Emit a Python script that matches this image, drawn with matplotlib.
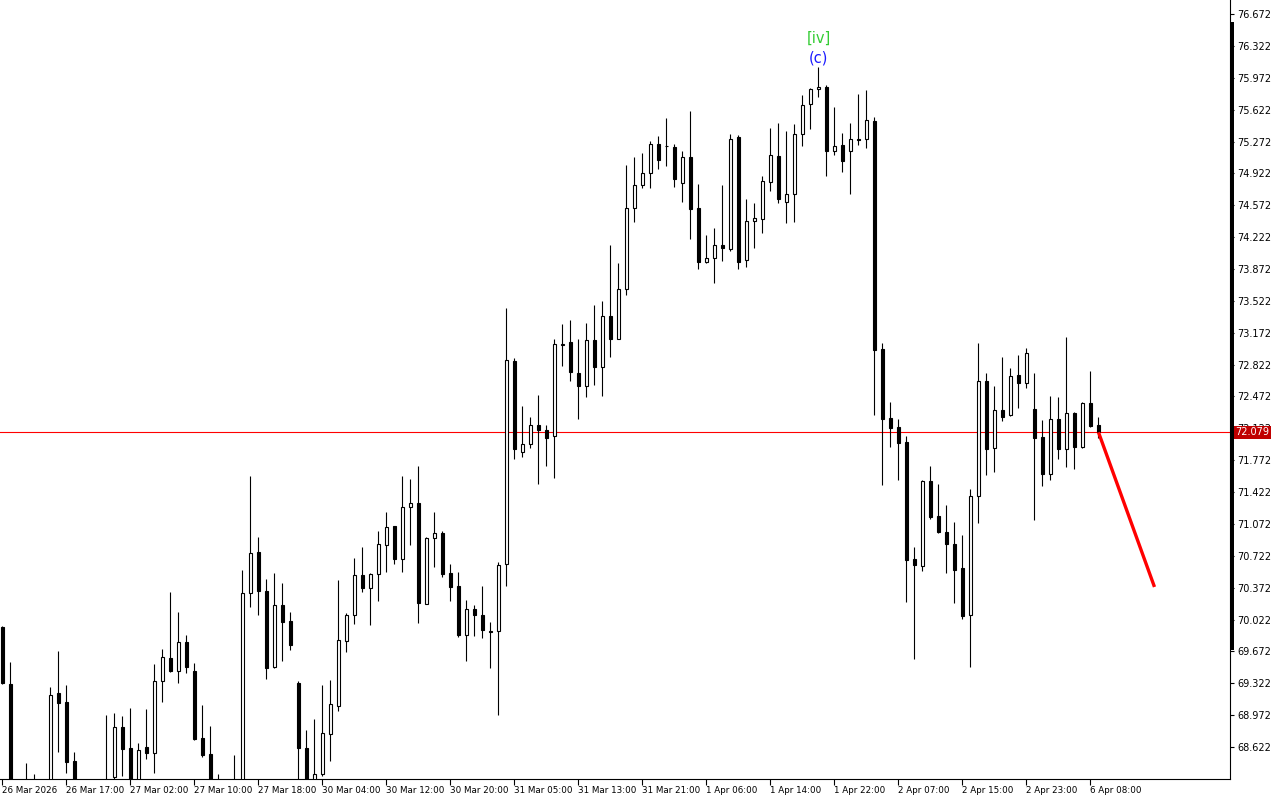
import matplotlib
matplotlib.use("Agg")
import matplotlib.pyplot as plt
from matplotlib.patches import Rectangle
from matplotlib.transforms import blended_transform_factory
import numpy as np

opens = [69.94, 69.31, 68.18, 68.10, 68.20, 68.12, 68.18, 69.22, 69.12, 68.47,
         68.15, 68.10, 68.05, 68.12, 68.29, 68.84, 68.61, 68.22, 68.62, 68.56,
         69.35, 69.60, 69.46, 69.78, 69.46, 68.72, 68.55, 68.15, 68.10, 68.15,
         68.20, 70.31, 70.76, 70.34, 69.50, 70.18, 70.01, 69.33, 68.61, 68.20,
         68.33, 68.77, 69.07, 69.79, 70.07, 70.51, 70.37, 70.52, 70.84, 71.05,
         70.69, 71.26, 71.30, 70.19, 70.92, 70.97, 70.53, 70.39, 69.85, 70.14,
         70.07, 69.90, 69.90, 70.63, 72.86, 71.86, 71.95, 72.16, 72.10, 72.04,
         73.04, 73.07, 72.73, 72.59, 73.09, 72.80, 73.36, 73.10, 73.65, 74.54,
         74.79, 74.93, 75.25, 75.22, 75.21, 74.82, 75.10, 74.54, 73.95, 73.99,
         74.14, 74.09, 75.32, 73.97, 74.40, 74.42, 74.83, 75.11, 74.61, 74.69,
         75.35, 75.68, 75.85, 75.87, 75.17, 75.23, 75.17, 75.30, 75.30, 75.50,
         72.99, 72.24, 72.14, 71.97, 70.69, 70.61, 71.54, 71.16, 70.98, 70.85,
         70.59, 70.07, 71.38, 72.64, 71.91, 72.32, 72.27, 72.71, 72.62, 72.33,
         72.03, 71.62, 72.23, 71.90, 72.29, 71.92, 72.40, 72.16]

highs = [69.95, 69.56, 68.25, 68.45, 68.33, 68.22, 69.28, 69.68, 69.30, 68.57,
         68.25, 68.24, 68.20, 68.97, 69.00, 68.96, 69.05, 68.67, 69.04, 69.53,
         69.70, 70.33, 70.11, 69.85, 69.55, 69.08, 68.85, 68.33, 68.22, 68.54,
         70.57, 71.60, 70.93, 70.47, 70.53, 70.42, 70.11, 69.35, 68.81, 68.93,
         69.30, 69.36, 70.46, 70.09, 70.70, 70.82, 70.53, 71.00, 71.20, 71.05,
         71.60, 71.57, 71.71, 70.93, 71.20, 71.00, 70.63, 70.54, 70.24, 70.18,
         70.39, 70.00, 70.65, 73.44, 72.89, 72.37, 72.25, 72.49, 72.16, 73.10,
         73.27, 73.31, 73.10, 73.28, 73.48, 73.52, 74.14, 73.94, 75.01, 75.10,
         75.15, 75.28, 75.33, 75.53, 75.25, 75.17, 75.61, 74.81, 74.25, 74.32,
         74.79, 75.35, 75.34, 74.64, 74.60, 74.89, 75.42, 75.48, 75.39, 75.46,
         75.78, 75.86, 76.09, 75.89, 75.65, 75.37, 75.48, 75.79, 75.84, 75.54,
         73.06, 72.41, 72.23, 72.04, 70.82, 71.55, 71.71, 71.51, 71.28, 71.09,
         70.95, 71.46, 73.06, 72.73, 72.59, 72.91, 72.79, 72.93, 73.00, 72.73,
         72.21, 72.48, 72.47, 73.13, 72.30, 72.41, 72.75, 72.25]

lows = [69.31, 68.10, 68.00, 68.02, 68.05, 67.98, 68.10, 68.57, 68.34, 68.05,
        68.00, 67.95, 67.95, 68.05, 68.25, 68.30, 68.15, 68.18, 68.49, 68.34,
        69.12, 69.45, 69.33, 69.44, 68.70, 68.51, 68.05, 67.98, 67.95, 68.05,
        68.12, 70.16, 70.07, 69.37, 69.49, 69.57, 69.69, 68.26, 68.10, 68.15,
        68.30, 68.47, 69.02, 69.67, 69.97, 70.33, 69.96, 70.23, 70.54, 70.63,
        70.54, 70.84, 69.98, 70.19, 70.60, 70.49, 70.23, 69.83, 69.57, 69.84,
        69.82, 69.49, 68.97, 70.39, 71.79, 71.81, 71.91, 71.51, 71.71, 71.58,
        72.81, 72.64, 72.22, 72.47, 72.60, 72.48, 72.91, 73.10, 73.59, 74.39,
        74.76, 74.76, 74.97, 75.00, 74.77, 74.61, 74.20, 73.87, 73.94, 73.72,
        73.96, 74.07, 73.87, 73.89, 74.10, 74.27, 74.73, 74.60, 74.38, 74.39,
        75.22, 75.41, 75.76, 74.89, 75.12, 74.94, 74.70, 75.23, 75.20, 72.27,
        71.50, 71.92, 71.56, 70.22, 69.59, 70.56, 71.13, 70.97, 70.53, 70.20,
        70.03, 69.50, 71.08, 71.61, 71.64, 72.20, 72.26, 72.35, 72.57, 71.11,
        71.49, 71.56, 71.78, 71.70, 71.67, 71.91, 72.14, 72.02]

closes = [69.33, 68.18, 68.10, 68.20, 68.12, 68.18, 69.19, 69.11, 68.46, 68.15,
          68.10, 68.05, 68.12, 68.20, 68.84, 68.60, 68.22, 68.59, 68.56, 69.35,
          69.61, 69.46, 69.78, 69.50, 68.71, 68.54, 68.15, 68.10, 68.15, 68.20,
          70.31, 70.75, 70.34, 69.49, 70.18, 70.00, 69.74, 68.61, 68.20, 68.33,
          68.78, 69.10, 69.80, 70.07, 70.51, 70.37, 70.52, 70.85, 71.04, 70.69,
          71.26, 71.30, 70.20, 70.92, 70.97, 70.52, 70.38, 69.85, 70.14, 70.07,
          69.91, 69.89, 70.62, 72.87, 71.90, 71.95, 72.16, 72.10, 72.02, 73.05,
          73.05, 72.74, 72.59, 73.09, 72.80, 73.36, 73.10, 73.65, 74.54, 74.79,
          74.93, 75.25, 75.07, 75.22, 74.86, 75.10, 74.53, 73.95, 73.99, 74.14,
          74.10, 75.30, 73.95, 74.40, 74.43, 74.84, 75.12, 74.64, 74.70, 75.35,
          75.67, 75.85, 75.87, 75.17, 75.22, 75.06, 75.30, 75.29, 75.51, 72.98,
          72.23, 72.13, 71.96, 70.68, 70.62, 71.54, 71.15, 70.98, 70.85, 70.57,
          70.06, 71.38, 72.64, 71.90, 72.32, 72.25, 72.70, 72.62, 72.95, 72.02,
          71.62, 72.23, 71.89, 72.29, 71.92, 72.40, 72.15, 72.079]

x_tick_labels = ["26 Mar 2026", "26 Mar 17:00", "27 Mar 02:00", "27 Mar 10:00",
                 "27 Mar 18:00", "30 Mar 04:00", "30 Mar 12:00", "30 Mar 20:00",
                 "31 Mar 05:00", "31 Mar 13:00", "31 Mar 21:00", "1 Apr 06:00",
                 "1 Apr 14:00", "1 Apr 22:00", "2 Apr 07:00", "2 Apr 15:00",
                 "2 Apr 23:00", "6 Apr 08:00"]
x_tick_every = 8

y_ticks = [76.672, 76.322, 75.972, 75.622, 75.272, 74.922, 74.572, 74.222,
           73.872, 73.522, 73.172, 72.822, 72.472, 72.122, 71.772, 71.422,
           71.072, 70.722, 70.372, 70.022, 69.672, 69.322, 68.972, 68.622]

current_price = 72.079
forecast_x = [137, 144]
forecast_y = [72.079, 70.38]

wave_label_top = "[iv]"
wave_label_bottom = "(c)"
wave_bar = 102

# ---------------------------------------------------------------
o = np.array(opens); h = np.array(highs); l = np.array(lows); c = np.array(closes)
idx = np.arange(len(o))

fig = plt.figure(figsize=(12.8, 8), dpi=100)
fig.patch.set_facecolor("white")
ax = fig.add_axes([0, 21 / 800, 1230 / 1280, 779 / 800])
ax.set_facecolor("white")

ymax = 76.826
ymin = 68.271
ax.set_xlim(-0.3125, 153.44)
ax.set_ylim(ymin, ymax)

ax.vlines(idx, l, h, color="black", linewidth=0.8, zorder=2)
up = c >= o
bottoms = np.minimum(o, c)
heights = np.maximum(np.abs(c - o), 0.004)
ax.bar(idx[up], heights[up], bottom=bottoms[up], width=0.48,
       facecolor="white", edgecolor="black", linewidth=0.8, zorder=3)
ax.bar(idx[~up], heights[~up], bottom=bottoms[~up], width=0.48,
       facecolor="black", edgecolor="black", linewidth=0.8, zorder=3)

ax.axhline(current_price, color="red", linewidth=0.8, zorder=1)
ax.plot(forecast_x, forecast_y, color="#ff0000", linewidth=2.4,
        solid_capstyle="butt", zorder=4)

ax.text(wave_bar, 76.40, wave_label_top, color="#33cc33", fontsize=10.5,
        ha="center", va="center", zorder=5)
ax.text(wave_bar, 76.19, wave_label_bottom, color="#1a1aff", fontsize=10.5,
        ha="center", va="center", zorder=5)

# axes styling
for s in ["left", "top"]:
    ax.spines[s].set_visible(False)
for s in ["right", "bottom"]:
    ax.spines[s].set_linewidth(0.8)
    ax.spines[s].set_color("black")

ax.yaxis.tick_right()
ax.set_yticks(y_ticks)
ax.set_yticklabels([f"{v:.3f}" for v in y_ticks])
ax.tick_params(axis="y", direction="out", length=3, width=0.8, pad=2,
               labelsize=7, colors="black")

xpos = [i * x_tick_every for i in range(len(x_tick_labels))]
ax.set_xticks(xpos)
ax.set_xticklabels(x_tick_labels, ha="left")
ax.tick_params(axis="x", direction="out", length=4, width=0.8, pad=1,
               labelsize=6.3, colors="black")

# current price tag
trans = blended_transform_factory(ax.transAxes, ax.transData)
ax.text(1.0 + 5 / 1230, current_price, "72.079", transform=trans,
        ha="left", va="center", color="white", fontsize=7, zorder=10,
        bbox=dict(boxstyle="square,pad=0.18", facecolor="#c00000",
                  edgecolor="none"), clip_on=False)

# thick bar along the price scale
fig.add_artist(Rectangle((1230 / 1280, 1 - 650 / 800), 4 / 1280,
                         (650 - 22) / 800, transform=fig.transFigure,
                         facecolor="black", edgecolor="none"))

fig.savefig("out.png", dpi=100, facecolor="white")
